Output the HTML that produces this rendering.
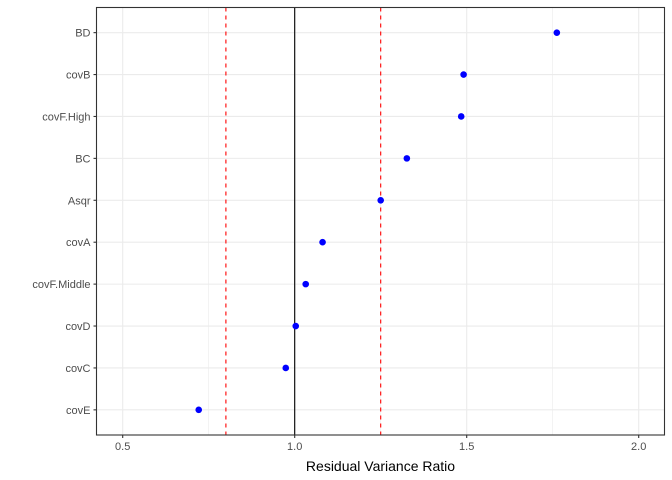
<!DOCTYPE html>
<html><head><meta charset="utf-8"><style>
html,body{margin:0;padding:0;background:#fff;}
svg{display:block;font-family:"Liberation Sans",Arial,sans-serif;}
</style></head><body>
<svg id="chart" width="672" height="480" xmlns="http://www.w3.org/2000/svg"></svg>
<script>
const categories = ["BD","covB","covF.High","BC","Asqr","covA","covF.Middle","covD","covC","covE"];
const values = [1.762,1.491,1.484,1.326,1.25,1.081,1.032,1.003,0.974,0.721];
const xTicks = [0.5,1.0,1.5,2.0];
const xTickLabels = ["0.5","1.0","1.5","2.0"];
const xMinor = [0.75,1.25,1.75];
const refLines = [0.8,1.25];
const centerLine = [1.0];

const L=96.5,R=664.5,T=7.5,B=435;
const x=v=>294.7+(v-1)*344;
const n=categories.length;
const step=(B-T)/(n+0.2);
const y=i=>T+step*0.6+i*step;
const svg=document.getElementById('chart');
const NS='http://www.w3.org/2000/svg';
function mk(tag,attrs,parent){const e=document.createElementNS(NS,tag);for(const k in attrs)e.setAttribute(k,attrs[k]);(parent||svg).appendChild(e);return e;}

xMinor.forEach(v=>{const e=mk('line',{x1:x(v),x2:x(v),y1:T,y2:B,stroke:'#ebebeb','stroke-width':0.6});

});
xTicks.forEach(v=>{const e=mk('line',{x1:x(v),x2:x(v),y1:T,y2:B,stroke:'#ebebeb','stroke-width':1.1});

});
categories.forEach((c,i)=>{const e=mk('line',{x1:L,x2:R,y1:y(i),y2:y(i),stroke:'#ebebeb','stroke-width':1.1});

});
refLines.forEach(v=>{const e=mk('line',{x1:x(v),x2:x(v),y1:T,y2:B,stroke:'#ff0000','stroke-width':1.1,'stroke-dasharray':'4,4'});

});
centerLine.forEach(v=>{const e=mk('line',{x1:x(v),x2:x(v),y1:T,y2:B,stroke:'#000','stroke-width':1.1});

});
values.forEach((v,i)=>{const e=mk('circle',{cx:x(v),cy:y(i),r:3.3,fill:'#0000ff'});

});
const fr=mk('rect',{x:L,y:T,width:R-L,height:B-T,fill:'none',stroke:'#333','stroke-width':1.1});


categories.forEach((c,i)=>{mk('line',{x1:L-3,x2:L,y1:y(i),y2:y(i),stroke:'#333','stroke-width':1.1});
const t=mk('text',{x:L-6,y:y(i)+4,'text-anchor':'end','font-size':11,fill:'#4d4d4d'});t.textContent=c;

});
xTicks.forEach((v,i)=>{mk('line',{x1:x(v),x2:x(v),y1:B,y2:B+3,stroke:'#333','stroke-width':1.1});
const t=mk('text',{x:x(v),y:B+15,'text-anchor':'middle','font-size':11,fill:'#4d4d4d'});t.textContent=xTickLabels[i];

});
const tt=mk('text',{x:(L+R)/2,y:471,'text-anchor':'middle','font-size':14,fill:'#000'});tt.textContent='Residual Variance Ratio';


</script>
</body></html>
